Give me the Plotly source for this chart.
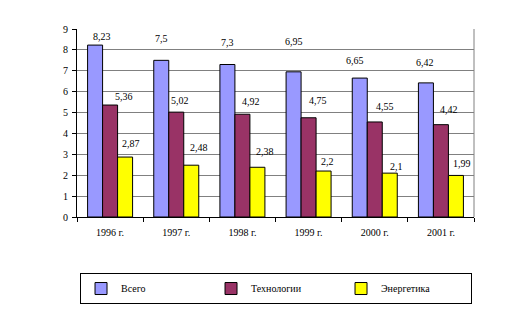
import plotly.graph_objects as go

categories = ["1996 г.", "1997 г.", "1998 г.", "1999 г.", "2000 г.", "2001 г."]
series_names = ["Всего", "Технологии", "Энергетика"]
vsego = [8.23, 7.5, 7.3, 6.95, 6.65, 6.42]
tech = [5.36, 5.02, 4.92, 4.75, 4.55, 4.42]
energ = [2.87, 2.48, 2.38, 2.2, 2.1, 1.99]
y_ticks = list(range(0, 10))

colors = ["#9999FF", "#993366", "#FFFF00"]
# manual label offsets (pixels): (dx from category centre, dy above bar top)
label_offsets = [
    [(-8, 9), (-15, 22), (-15, 22), (-15, 30), (-20, 18), (-16, 20)],
    [(14, 9), (4, 12), (9, 13), (9, 17), (10, 15), (8, 15)],
    [(21, 14), (23, 18), (23, 16), (19, 10), (22, 7), (21, 12)],
]

FONT = "Liberation Serif"

fig = go.Figure()
all_series = [vsego, tech, energ]
for name, vals, col in zip(series_names, all_series, colors):
    fig.add_trace(go.Bar(
        x=categories, y=vals, name=name,
        marker=dict(color=col, line=dict(color="black", width=1)),
    ))

annotations = []
for si, vals in enumerate(all_series):
    for ci, v in enumerate(vals):
        dx, dy = label_offsets[si][ci]
        annotations.append(dict(
            x=categories[ci], y=v, xref="x", yref="y",
            text=f"{v:g}".replace(".", ","), showarrow=False,
            xshift=dx, yshift=dy, yanchor="middle", xanchor="center",
            font=dict(family=FONT, size=10, color="black"),
        ))

fig.update_layout(
    width=520, height=322,
    margin=dict(l=77, r=46, t=29, b=105, autoexpand=False),
    paper_bgcolor="white", plot_bgcolor="white",
    barmode="group", bargap=0.32, bargroupgap=0,
    font=dict(family=FONT, size=10, color="black"),
    annotations=annotations,
    showlegend=True,
    legend=dict(
        orientation="h", x=0.0076, y=-0.298, xanchor="left", yanchor="top",
        bordercolor="black", borderwidth=1, bgcolor="white",
        entrywidth=85, itemwidth=30,
        font=dict(family=FONT, size=10, color="black"),
    ),
    shapes=[dict(type="line", xref="x domain", yref="y domain",
                 x0=1, x1=1, y0=0, y1=1, line=dict(color="#808080", width=1))],
)
fig.update_xaxes(
    showline=True, linecolor="black", linewidth=1,
    ticks="outside", tickson="boundaries", ticklen=4, tickcolor="black",
    ticklabelstandoff=6,
    showgrid=False, tickfont=dict(family=FONT, size=10),
)
fig.update_yaxes(
    range=[0, 9], tickvals=y_ticks, showline=True, linecolor="black", linewidth=1,
    ticks="outside", ticklen=4, tickcolor="black",
    ticklabelstandoff=2,
    showgrid=True, gridcolor="#808080", gridwidth=1, zeroline=False,
    tickfont=dict(family=FONT, size=10),
)

fig.write_html("out.html")
